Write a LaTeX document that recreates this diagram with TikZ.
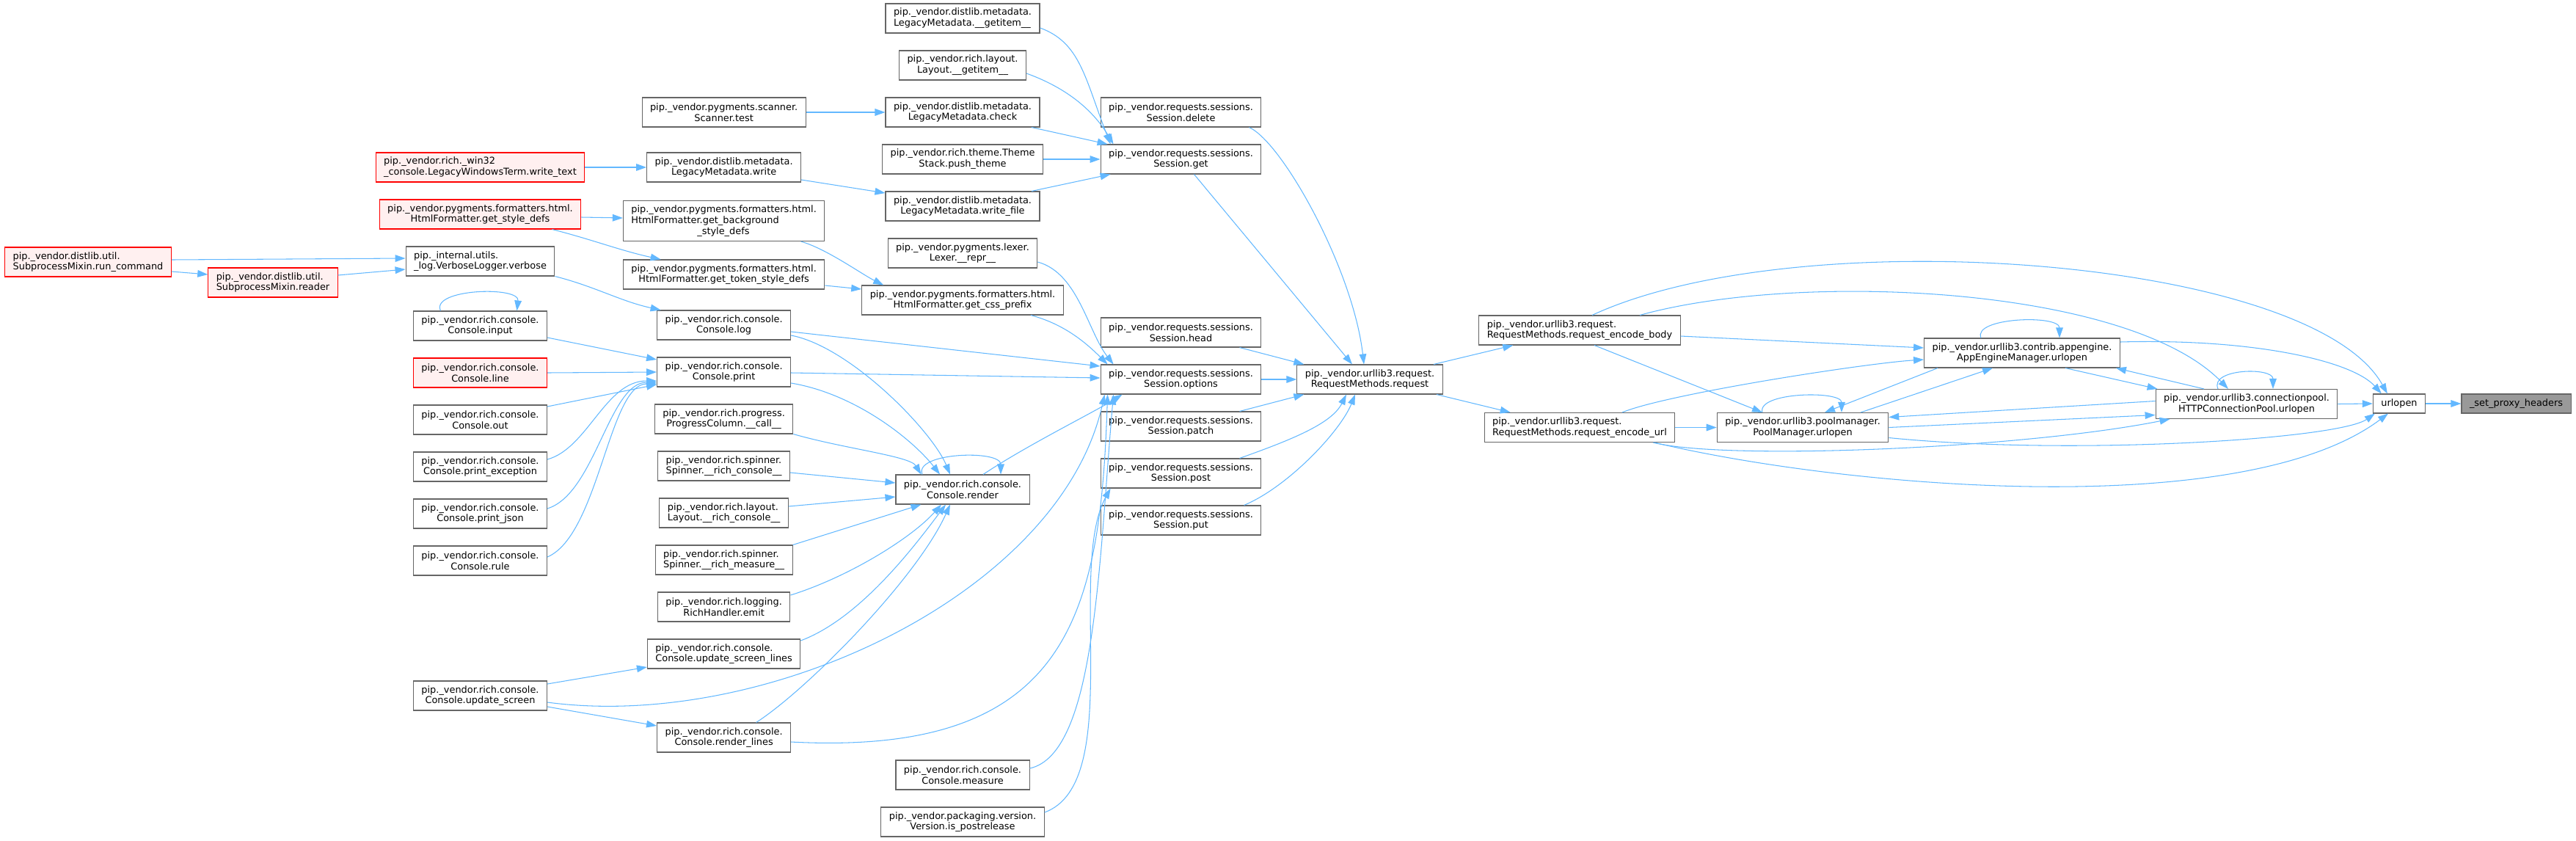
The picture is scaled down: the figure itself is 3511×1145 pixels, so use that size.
\documentclass[tikz,border=0pt]{standalone}
\usepackage{fontspec}
\setmainfont{DejaVu Sans}
\usetikzlibrary{arrows.meta, calc}
\definecolor{edgeblue}{HTML}{63B8FF}
\definecolor{nodegrey}{HTML}{666666}
\definecolor{redline}{HTML}{FF0000}
\definecolor{redfill}{HTML}{FFF0F0}
\definecolor{hitfill}{HTML}{999999}

\begin{document}
\begin{tikzpicture}[x=0.03cm, y=-0.03cm,
        fn/.style={rectangle, draw=nodegrey, fill=white, line width=0.9pt, font=\fontsize{11}{12.6}\selectfont,
                   inner xsep=0.33cm, inner ysep=0pt, minimum height=1.2cm, align=center},
        fnred/.style={fn, draw=redline, fill=redfill},
        fnone/.style={fn, minimum height=0.78cm},
        fnhit/.style={fnone, fill=hitfill},
        call/.style={draw=edgeblue, line width=0.9pt, -{Triangle[length=0.42cm, width=0.29cm]}}
    ]
    \useasboundingbox (0,0) rectangle (3511,1145);

    \node[fnred, align=left] (runcmd) at (120,357) {pip.\_vendor.distlib.util.\\SubprocessMixin.run\_command};
    \node[fnred, align=left] (reader) at (372,385) {pip.\_vendor.distlib.util.\\SubprocessMixin.reader};

    \node[fnred, align=left] (wintext) at (654.5,228) {pip.\_vendor.rich.\_win32\\\_console.LegacyWindowsTerm.write\_text};
    \node[fnred] (styledefs) at (654.5,292) {pip.\_vendor.pygments.formatters.html.\\HtmlFormatter.get\_style\_defs};
    \node[fn, align=left] (verbose) at (654.5,356) {pip.\_internal.utils.\\\_log.VerboseLogger.verbose};
    \node[fn] (input) at (654.5,444) {pip.\_vendor.rich.console.\\Console.input};
    \node[fnred] (line) at (654.5,508) {pip.\_vendor.rich.console.\\Console.line};
    \node[fn] (out) at (654.5,572) {pip.\_vendor.rich.console.\\Console.out};
    \node[fn] (printexc) at (654.5,636) {pip.\_vendor.rich.console.\\Console.print\_exception};
    \node[fn] (printjson) at (654.5,700) {pip.\_vendor.rich.console.\\Console.print\_json};
    \node[fn] (rule) at (654.5,764) {pip.\_vendor.rich.console.\\Console.rule};
    \node[fn] (updscreen) at (654.5,948) {pip.\_vendor.rich.console.\\Console.update\_screen};

    \node[fn] (scantest) at (986.6,153) {pip.\_vendor.pygments.scanner.\\Scanner.test};
    \node[fn] (mdwrite) at (986.6,228) {pip.\_vendor.distlib.metadata.\\LegacyMetadata.write};
    \node[fn, align=left, minimum height=1.65cm] (bgdefs) at (986.6,301) {pip.\_vendor.pygments.formatters.html.\\HtmlFormatter.get\_background\\\hspace*{2.7cm}\_style\_defs};
    \node[fn] (tokdefs) at (986.6,374) {pip.\_vendor.pygments.formatters.html.\\HtmlFormatter.get\_token\_style\_defs};
    \node[fn] (log) at (986.6,443) {pip.\_vendor.rich.console.\\Console.log};
    \node[fn] (print) at (986.6,507) {pip.\_vendor.rich.console.\\Console.print};
    \node[fn] (progcall) at (986.6,571) {pip.\_vendor.rich.progress.\\ProgressColumn.\_\_call\_\_};
    \node[fn, align=left] (spincons) at (986.6,635) {pip.\_vendor.rich.spinner.\\Spinner.\_\_rich\_console\_\_};
    \node[fn, align=left] (laycons) at (986.6,699) {pip.\_vendor.rich.layout.\\Layout.\_\_rich\_console\_\_};
    \node[fn, align=left] (spinmeas) at (986.6,763) {pip.\_vendor.rich.spinner.\\Spinner.\_\_rich\_measure\_\_};
    \node[fn] (emit) at (986.6,827) {pip.\_vendor.rich.logging.\\RichHandler.emit};
    \node[fn, align=left] (updlines) at (986.6,891) {pip.\_vendor.rich.console.\\Console.update\_screen\_lines};
    \node[fn] (renderlines) at (986.6,1005) {pip.\_vendor.rich.console.\\Console.render\_lines};

    \node[fn, align=left] (mdgetitem) at (1312,25) {pip.\_vendor.distlib.metadata.\\LegacyMetadata.\_\_getitem\_\_};
    \node[fn] (laygetitem) at (1312,89) {pip.\_vendor.rich.layout.\\Layout.\_\_getitem\_\_};
    \node[fn] (mdcheck) at (1312,153) {pip.\_vendor.distlib.metadata.\\LegacyMetadata.check};
    \node[fn] (pushtheme) at (1312,217) {pip.\_vendor.rich.theme.Theme\\Stack.push\_theme};
    \node[fn] (writefile) at (1312,281) {pip.\_vendor.distlib.metadata.\\LegacyMetadata.write\_file};
    \node[fn] (lexrepr) at (1312,345) {pip.\_vendor.pygments.lexer.\\Lexer.\_\_repr\_\_};
    \node[fn] (cssprefix) at (1312,409) {pip.\_vendor.pygments.formatters.html.\\HtmlFormatter.get\_css\_prefix};
    \node[fn] (render) at (1312,667) {pip.\_vendor.rich.console.\\Console.render};
    \node[fn] (measure) at (1312,1056) {pip.\_vendor.rich.console.\\Console.measure};
    \node[fn] (postrel) at (1312,1120) {pip.\_vendor.packaging.version.\\Version.is\_postrelease};

    \node[fn] (sdelete) at (1609.5,153) {pip.\_vendor.requests.sessions.\\Session.delete};
    \node[fn] (sget) at (1609.5,217) {pip.\_vendor.requests.sessions.\\Session.get};
    \node[fn] (shead) at (1609.5,453) {pip.\_vendor.requests.sessions.\\Session.head};
    \node[fn] (soptions) at (1609.5,517) {pip.\_vendor.requests.sessions.\\Session.options};
    \node[fn] (spatch) at (1609.5,581) {pip.\_vendor.requests.sessions.\\Session.patch};
    \node[fn] (spost) at (1609.5,645) {pip.\_vendor.requests.sessions.\\Session.post};
    \node[fn] (sput) at (1609.5,709) {pip.\_vendor.requests.sessions.\\Session.put};

    \node[fn] (request) at (1867,517) {pip.\_vendor.urllib3.request.\\RequestMethods.request};
    \node[fn, align=left] (encbody) at (2153,450) {pip.\_vendor.urllib3.request.\\RequestMethods.request\_encode\_body};
    \node[fn, align=left] (encurl) at (2153,582.5) {pip.\_vendor.urllib3.request.\\RequestMethods.request\_encode\_url};
    \node[fn] (poolmgr) at (2457,582.5) {pip.\_vendor.urllib3.poolmanager.\\PoolManager.urlopen};
    \node[fn] (appengine) at (2756,481) {pip.\_vendor.urllib3.contrib.appengine.\\AppEngineManager.urlopen};
    \node[fn] (httpconn) at (3062,550.5) {pip.\_vendor.urllib3.connectionpool.\\HTTPConnectionPool.urlopen};
    \node[fnone] (urlopen) at (3270,550) {urlopen};
    \node[fnhit] (proxy) at (3429.5,550) {\_set\_proxy\_headers};

    % left part
    \draw[call] ($(runcmd.east)+(0,-3)$) -- ($(verbose.west)+(0,-4)$);
    \draw[call] ($(runcmd.east)+(0,13)$) -- ($(reader.west)+(0,-11)$);
    \draw[call] ($(reader.east)+(0,-10)$) -- ($(verbose.west)+(0,11)$);
    \draw[call] (wintext.east) -- (mdwrite.west);
    \draw[call] ($(styledefs.east)+(0,4)$) -- ($(bgdefs.west)+(0,-4)$);
    \draw[call] ($(styledefs.south)+(98,0)$) .. controls +(55,14) and +(-55,-12) .. ($(tokdefs.north)+(-86,0)$);
    \draw[call] (verbose.south east) .. controls +(55,14) and +(-55,-12) .. ($(log.north)+(-86,0)$);
    \draw[call] ($(input.north)+(-54,0)$) .. controls +(-14,-30) and +(4,-34) .. ($(input.north)+(50,0)$);
    \draw[call] ($(input.east)+(0,16)$) -- ($(print.west)+(0,-17)$);
    \draw[call] (line.east) -- (print.west);
    \draw[call] ($(out.east)+(0,-18)$) -- ($(print.west)+(0,17)$);
    \draw[call] ($(printexc.east)+(0,-10)$) .. controls +(55,-15) and +(-70,0) .. ($(print.west)+(0,12)$);
    \draw[call] ($(printjson.east)+(0,-7)$) .. controls +(65,-20) and +(-65,0) .. ($(print.west)+(0,14)$);
    \draw[call] ($(rule.east)+(0,-5)$) .. controls +(70,-30) and +(-65,0) .. ($(print.west)+(0,16)$);
    \draw[call] ($(updscreen.east)+(0,-16)$) -- ($(updlines.west)+(0,18)$);
    \draw[call] ($(updscreen.east)+(0,9)$) .. controls +(300,40) and +(-60,270) .. ($(soptions.south west)+(6,0)$);
    \draw[call] ($(updscreen.east)+(0,15)$) -- ($(renderlines.west)+(0,-16)$);

    % rich console
    \draw[call] ($(log.east)+(0,9)$) -- ($(soptions.west)+(0,-18)$);
    \draw[call] ($(log.east)+(0,14)$) .. controls +(80,15) and +(-25,-60) .. ($(render.north)+(-17,0)$);
    \draw[call] ($(print.east)+(0,1)$) -- ($(soptions.west)+(0,-2)$);
    \draw[call] ($(print.east)+(0,15)$) .. controls +(90,15) and +(-35,-45) .. ($(render.north)+(-31,0)$);
    \draw[call] (progcall.south east) .. controls +(70,20) and +(-15,-25) .. ($(render.north west)+(35,0)$);
    \draw[call] ($(spincons.east)+(0,9)$) -- ($(render.west)+(0,-9)$);
    \draw[call] ($(laycons.east)+(0,-9)$) -- ($(render.west)+(0,10)$);
    \draw[call] (spinmeas.north east) -- ($(render.south west)+(35,0)$);
    \draw[call] ($(emit.east)+(0,-16)$) .. controls +(80,-25) and +(-40,45) .. ($(render.south)+(-29,0)$);
    \draw[call] ($(updlines.east)+(0,-18)$) .. controls +(80,-30) and +(-45,60) .. ($(render.south)+(-23,0)$);
    \draw[call] ($(renderlines.north)+(44,0)$) .. controls +(70,-45) and +(-45,100) .. ($(render.south)+(-17,0)$);
    \draw[call] ($(renderlines.east)+(0,6)$) .. controls +(380,20) and +(-10,300) .. ($(soptions.south west)+(10,0)$);
    \draw[call] ($(render.north)+(-55,0)$) .. controls +(-12,-30) and +(0,-34) .. ($(render.north)+(52,0)$);
    \draw[call] ($(render.north)+(28,0)$) .. controls +(60,-40) and +(-40,25) .. ($(soptions.south west)+(30,0)$);
    \draw[call] ($(measure.east)+(0,-9)$) .. controls +(90,-20) and +(-20,230) .. ($(soptions.south west)+(18,0)$);
    \draw[call] ($(postrel.east)+(0,-13)$) .. controls +(110,-40) and +(-60,110) .. ($(spost.south west)+(14,0)$);

    % metadata, pygments
    \draw[call] (scantest.east) -- (mdcheck.west);
    \draw[call] ($(mdwrite.east)+(0,17)$) -- ($(writefile.west)+(0,-18)$);
    \draw[call] ($(bgdefs.south)+(105,0)$) .. controls +(35,10) and +(-30,-15) .. ($(cssprefix.north west)+(30,0)$);
    \draw[call] ($(tokdefs.east)+(0,15)$) -- ($(cssprefix.west)+(0,-15)$);
    \draw[call] ($(mdgetitem.east)+(0,13)$) .. controls +(55,20) and +(-35,-90) .. ($(sget.north west)+(14,0)$);
    \draw[call] ($(laygetitem.east)+(0,11)$) .. controls +(50,18) and +(-30,-50) .. ($(sget.north west)+(18,0)$);
    \draw[call] ($(mdcheck.south)+(94,0)$) -- ($(sget.north west)+(10,0)$);
    \draw[call] (pushtheme.east) -- (sget.west);
    \draw[call] ($(writefile.north)+(94,0)$) -- ($(sget.south west)+(14,0)$);
    \draw[call] ($(lexrepr.east)+(0,12)$) .. controls +(55,15) and +(-35,-45) .. ($(soptions.north west)+(18,0)$);
    \draw[call] ($(cssprefix.south)+(93,0)$) .. controls +(45,12) and +(-30,-30) .. ($(soptions.north west)+(10,0)$);

    % sessions
    \draw[call] ($(sdelete.south)+(93,0)$) .. controls +(45,20) and +(-15,-130) .. ($(request.north)+(-8,0)$);
    \draw[call] ($(sget.south)+(18,0)$) -- ($(request.north)+(-24,0)$);
    \draw[call] ($(shead.south)+(80,0)$) -- ($(request.north west)+(10,0)$);
    \draw[call] (soptions.east) -- (request.west);
    \draw[call] ($(spatch.north)+(80,0)$) -- ($(request.south west)+(10,0)$);
    \draw[call] ($(spost.north)+(80,0)$) .. controls +(70,-25) and +(-20,40) .. ($(request.south)+(-32,0)$);
    \draw[call] ($(sput.north)+(86,0)$) .. controls +(60,-25) and +(-20,50) .. ($(request.south)+(-20,0)$);

    % urllib3
    \draw[call] ($(request.north)+(87,0)$) -- ($(encbody.south west)+(47,0)$);
    \draw[call] ($(request.south)+(91,0)$) -- ($(encurl.north west)+(36,0)$);
    \draw[call] ($(encbody.east)+(0,8)$) -- ($(appengine.west)+(0,-7)$);
    \draw[call] ($(encbody.south)+(20,0)$) -- ($(poolmgr.north)+(-55,0)$);
    \draw[call] ($(encbody.north)+(17,0)$) .. controls +(280,-130) and +(-104,-187) .. ($(urlopen.north west)+(20,0)$);
    \draw[call] ($(encbody.north)+(82,0)$) .. controls +(215,-60) and +(-137,-141) .. ($(httpconn.north)+(-25,0)$);
    \draw[call] (encurl.east) -- (poolmgr.west);
    \draw[call] ($(encurl.north)+(58,0)$) .. controls +(60,-25) and +(-80,5) .. ($(appengine.west)+(0,9)$);
    \draw[call] ($(encurl.south)+(100,0)$) .. controls +(100,25) and +(-200,40) .. ($(httpconn.south west)+(20,0)$);
    \draw[call] ($(encurl.south)+(102,0)$) .. controls +(250,60) and +(-200,150) .. ($(urlopen.south)+(-15,0)$);
    \draw[call] ($(appengine.north)+(-56,0)$) .. controls +(-12,-28) and +(0,-32) .. ($(appengine.north)+(51,0)$);
    \draw[call] ($(appengine.south)+(-115,0)$) -- ($(poolmgr.north)+(30,0)$);
    \draw[call] ($(poolmgr.north)+(79,0)$) -- ($(appengine.south)+(-40,0)$);
    \draw[call] ($(appengine.south)+(59,0)$) -- ($(httpconn.north west)+(3,0)$);
    \draw[call] ($(httpconn.north)+(-58,0)$) -- ($(appengine.south east)+(-6,0)$);
    \draw[call] ($(httpconn.west)+(0,-4)$) -- ($(poolmgr.east)+(0,-14)$);
    \draw[call] (poolmgr.east) -- ($(httpconn.west)+(0,15)$);
    \draw[call] ($(poolmgr.north)+(-55,0)$) .. controls +(-8,-28) and +(0,-30) .. ($(poolmgr.north)+(53,0)$);
    \draw[call] ($(poolmgr.east)+(0,14)$) .. controls +(250,25) and +(-50,35) .. ($(urlopen.south west)+(3,0)$);
    \draw[call] ($(appengine.east)+(0,-15)$) .. controls +(180,-5) and +(-40,-45) .. ($(urlopen.north west)+(12,0)$);
    \draw[call] ($(httpconn.north)+(-39,0)$) .. controls +(-12,-28) and +(0,-30) .. ($(httpconn.north)+(36,0)$);
    \draw[call] (httpconn.east) -- (urlopen.west);
    \draw[call] (urlopen.east) -- (proxy.west);
\end{tikzpicture}
\end{document}
